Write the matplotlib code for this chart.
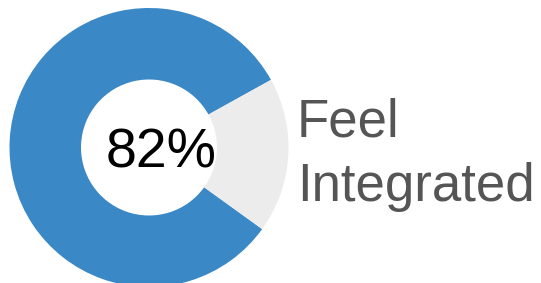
import matplotlib
matplotlib.use("Agg")
import matplotlib.pyplot as plt

# donut share and labels
values = [82, 18]
colors = ["#3a88c5", "#ececec"]
center_label = "82%"
label_lines = ["Feel", "Integrated"]

W, H = 541, 283
fig = plt.figure(figsize=(W / 100, H / 100), dpi=100)
ax = fig.add_axes([0, 0, 1, 1])
ax.pie(values, colors=colors, startangle=29, counterclock=True,
       center=(149, H - 147.5), radius=139.5,
       wedgeprops=dict(width=139.5 - 68, linewidth=0))
ax.set_xlim(0, W)
ax.set_ylim(0, H)
ax.set_aspect("equal")
ax.axis("off")

ax.text(161, H - 167, center_label, ha="center", va="baseline",
        fontsize=40, color="black", family="Liberation Sans")
for txt, base in zip(label_lines, (136.5, 201)):
    ax.text(297, H - base, txt, ha="left", va="baseline",
            fontsize=38, color="#555555", family="Liberation Sans")

fig.savefig("out.png", dpi=100)
